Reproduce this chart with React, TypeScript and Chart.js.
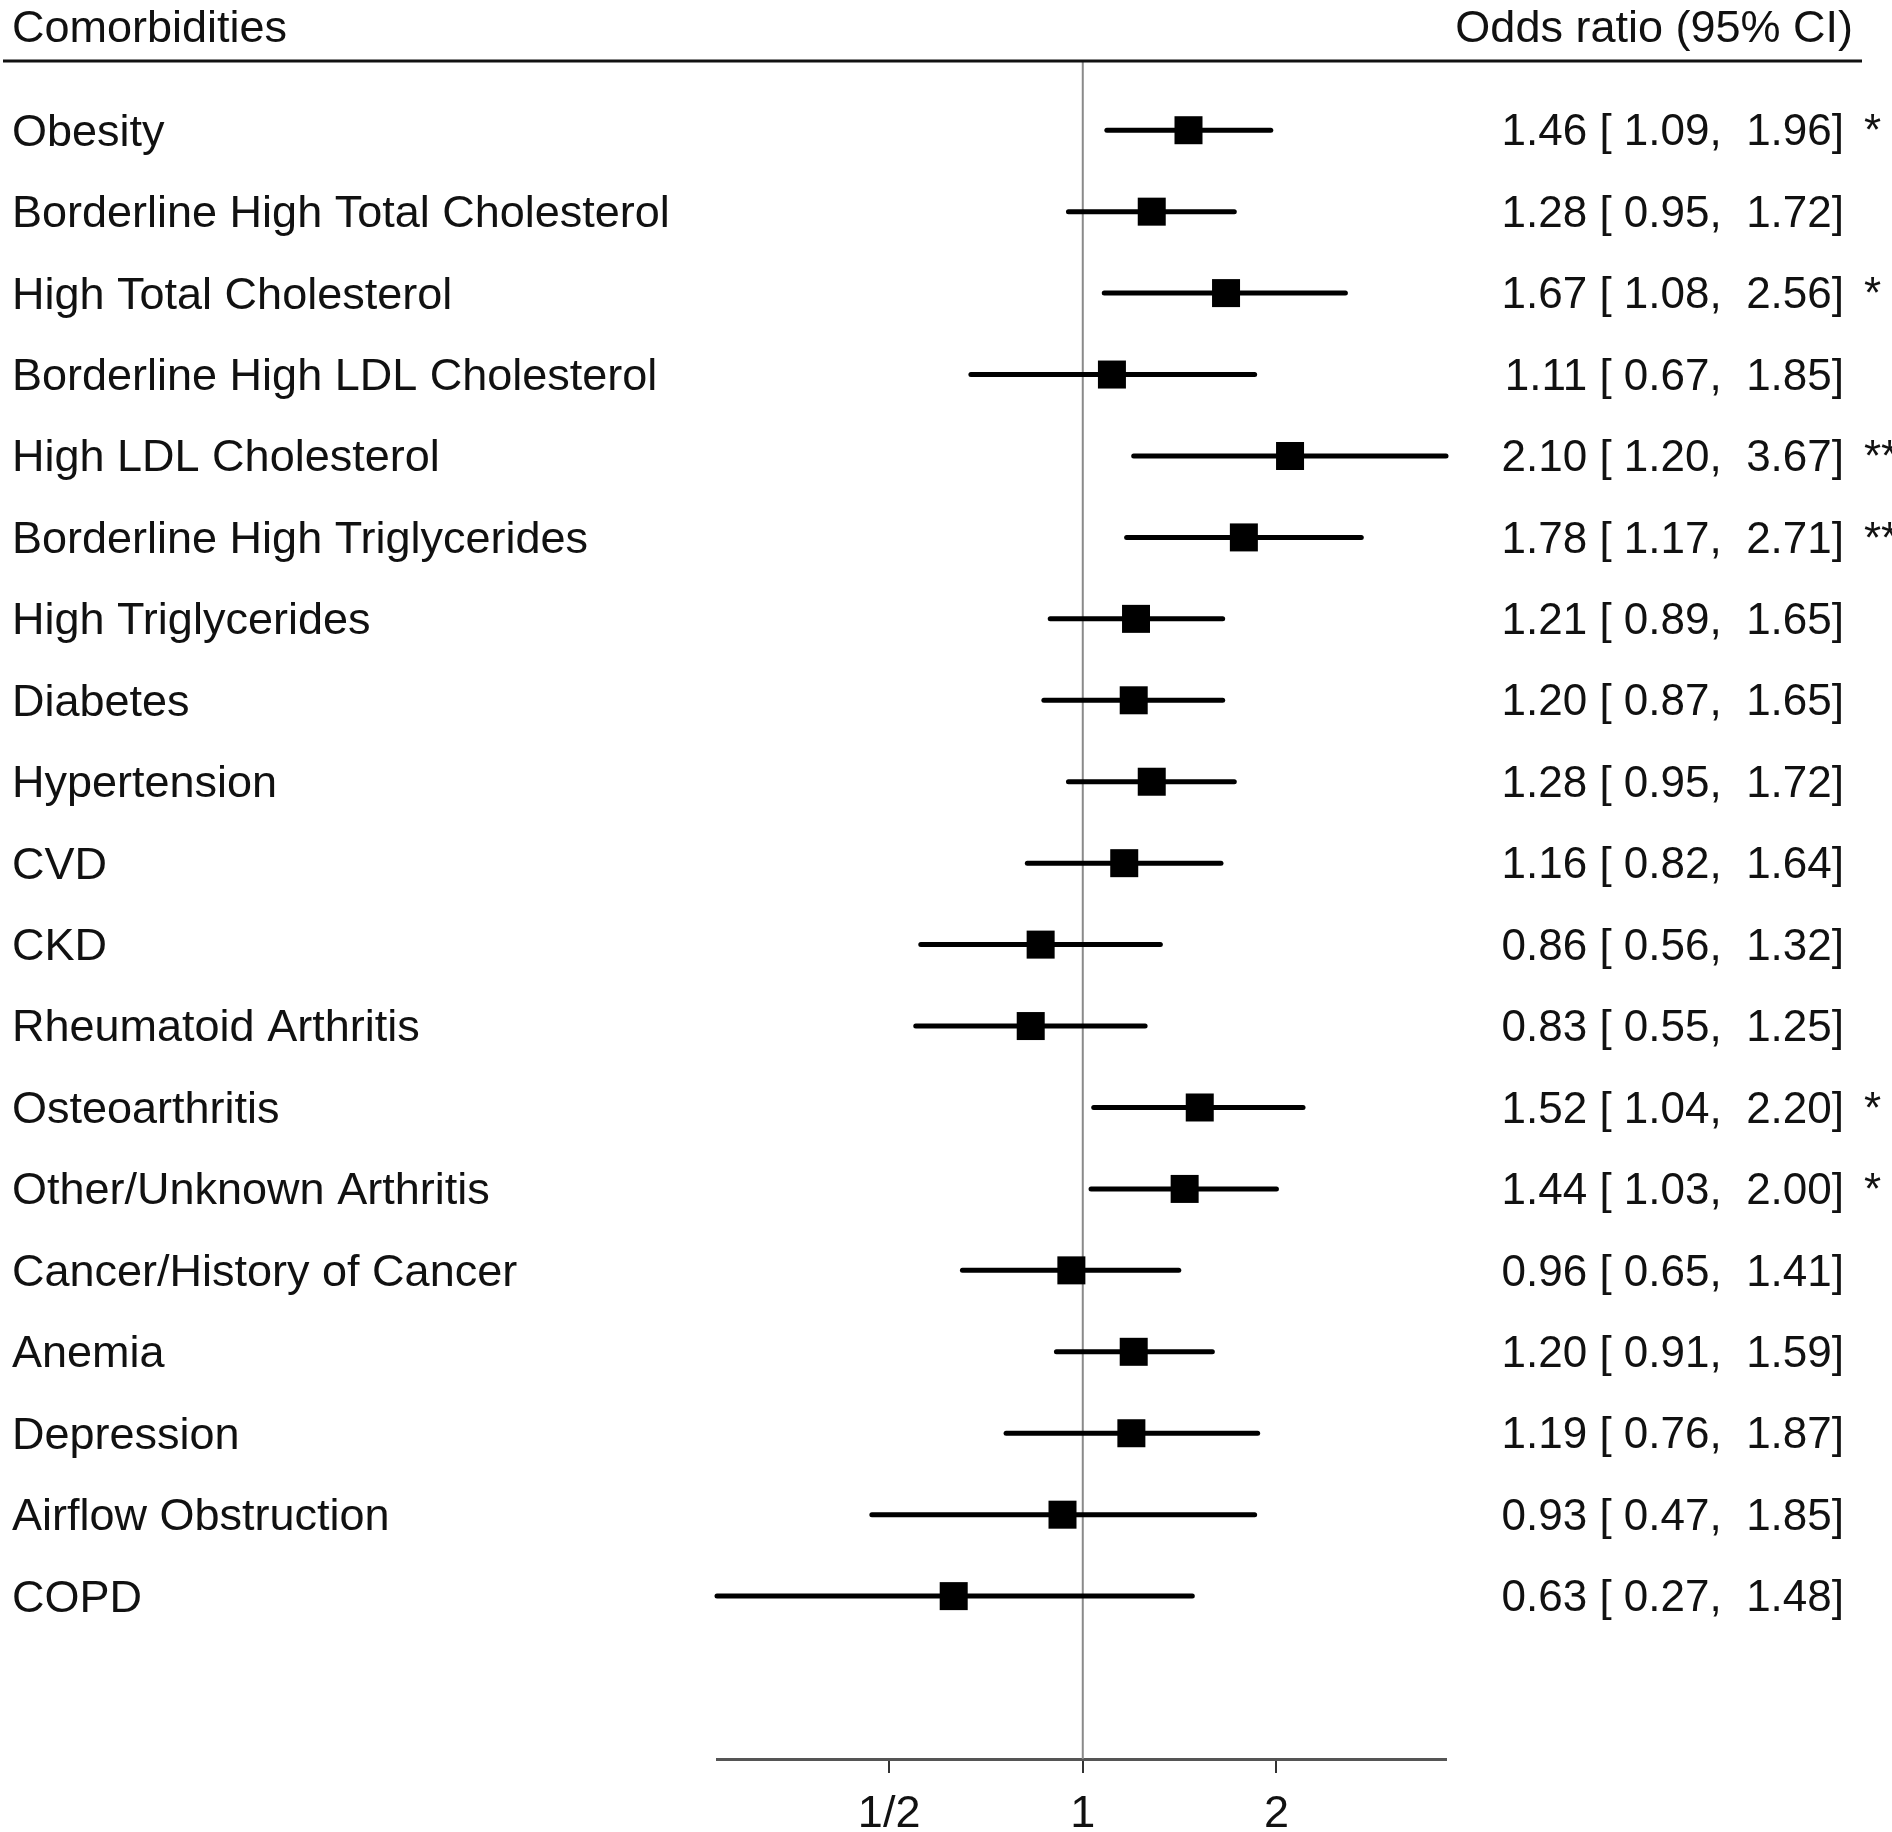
import React, { useEffect, useRef } from "react";
import { Chart, registerables } from "chart.js";

Chart.register(...registerables);

const labels = [
  "Obesity",
  "Borderline High Total Cholesterol",
  "High Total Cholesterol",
  "Borderline High LDL Cholesterol",
  "High LDL Cholesterol",
  "Borderline High Triglycerides",
  "High Triglycerides",
  "Diabetes",
  "Hypertension",
  "CVD",
  "CKD",
  "Rheumatoid Arthritis",
  "Osteoarthritis",
  "Other/Unknown Arthritis",
  "Cancer/History of Cancer",
  "Anemia",
  "Depression",
  "Airflow Obstruction",
  "COPD",
];
const estimates = [1.46, 1.28, 1.67, 1.11, 2.1, 1.78, 1.21, 1.2, 1.28, 1.16, 0.86, 0.83, 1.52, 1.44, 0.96, 1.2, 1.19, 0.93, 0.63];
const lower = [1.09, 0.95, 1.08, 0.67, 1.2, 1.17, 0.89, 0.87, 0.95, 0.82, 0.56, 0.55, 1.04, 1.03, 0.65, 0.91, 0.76, 0.47, 0.27];
const upper = [1.96, 1.72, 2.56, 1.85, 3.67, 2.71, 1.65, 1.65, 1.72, 1.64, 1.32, 1.25, 2.2, 2.0, 1.41, 1.59, 1.87, 1.85, 1.48];
const significance = ["*", "", "*", "", "**", "**", "", "", "", "", "", "", "*", "*", "", "", "", "", ""];
const tickValues = [0.5, 1, 2];
const tickLabels = ["1/2", "1", "2"];
const headerLeft = "Comorbidities";
const headerRight = "Odds ratio (95% CI)";

const FONT = '"Liberation Sans", Arial, Helvetica, sans-serif';
const FS = 45;
const FS_ANN = 44;

export default function App() {
  const ref = useRef<HTMLCanvasElement | null>(null);

  useEffect(() => {
    const n = labels.length;
    const rowY = (i: number) => n - i; // Obesity top row
    const yTop = n + 0.85;

    const ciSets = labels.map((_, i) => ({
      type: "line" as const,
      data: [
        { x: lower[i], y: rowY(i) },
        { x: upper[i], y: rowY(i) },
      ],
      borderColor: "#000",
      borderWidth: 5,
      borderCapStyle: "round" as const,
      pointRadius: 0,
      clip: false as any,
      order: 2,
    }));

    const refLine = {
      type: "line" as const,
      data: [
        { x: 1, y: -1 },
        { x: 1, y: yTop },
      ],
      borderColor: "#8a8a8a",
      borderWidth: 2,
      pointRadius: 0,
      clip: false as any,
      order: 3,
    };

    const points = {
      type: "scatter" as const,
      data: estimates.map((v, i) => ({ x: v, y: rowY(i) })),
      backgroundColor: "#000",
      borderWidth: 0,
      pointStyle: "rect" as const,
      pointRadius: 19.8,
      pointHoverRadius: 19.8,
      clip: false as any,
      order: 1,
    };

    const textPlugin = {
      id: "forestText",
      afterDraw(chart: any) {
        const ctx = chart.ctx;
        const ys = chart.scales.y;
        const area = chart.chartArea;
        ctx.save();
        ctx.fillStyle = "#111";
        ctx.textBaseline = "middle";
        // header
        ctx.font = `${FS}px ${FONT}`;
        ctx.textAlign = "left";
        ctx.fillText(headerLeft, 12, 30);
        ctx.textAlign = "right";
        ctx.fillText(headerRight, 1853, 30);
        ctx.strokeStyle = "#111";
        ctx.lineWidth = 3;
        ctx.beginPath();
        ctx.moveTo(3, area.top);
        ctx.lineTo(1862, area.top);
        ctx.stroke();
        // rows
        labels.forEach((lab, i) => {
          const y = ys.getPixelForValue(rowY(i)) + 3;
          ctx.font = `${FS}px ${FONT}`;
          ctx.textAlign = "left";
          ctx.fillText(lab, 12, y);
          ctx.font = `${FS_ANN}px ${FONT}`;
          ctx.textAlign = "right";
          const txt = `${estimates[i].toFixed(2)} [ ${lower[i].toFixed(2)},  ${upper[i].toFixed(2)}]`;
          ctx.fillText(txt, 1844, y);
          if (significance[i]) {
            ctx.textAlign = "left";
            ctx.fillText(significance[i], 1864, y);
          }
        });
        ctx.restore();
      },
    };

    const chart = new Chart(ref.current as HTMLCanvasElement, {
      type: "scatter",
      data: { datasets: [refLine, ...ciSets, points] as any },
      options: {
        animation: false,
        responsive: false,
        events: [],
        layout: { padding: { left: 717, right: 446, top: 61, bottom: 0 } },
        plugins: { legend: { display: false }, tooltip: { enabled: false } },
        scales: {
          x: {
            type: "logarithmic",
            min: Math.min(...lower),
            max: Math.max(...upper),
            position: "bottom",
            afterBuildTicks: (scale: any) => {
              scale.ticks = tickValues.map((v) => ({ value: v }));
            },
            afterFit: (scale: any) => {
              scale.height = 73;
            },
            grid: {
              display: true,
              drawOnChartArea: false,
              drawTicks: true,
              tickLength: 14,
              color: "#333",
              lineWidth: 2,
            },
            border: { display: true, color: "#555", width: 3 },
            ticks: {
              autoSkip: false,
              maxRotation: 0,
              padding: 15,
              color: "#111",
              font: { size: FS, family: FONT },
              callback: (v: any) => {
                const k = tickValues.indexOf(Number(v));
                return k >= 0 ? tickLabels[k] : "";
              },
            },
          },
          y: {
            type: "linear",
            display: false,
            min: -1,
            max: yTop,
          },
        },
      },
      plugins: [textPlugin],
    });
    return () => chart.destroy();
  }, []);

  return (
    <div style={{ position: "absolute", left: 0, top: 0, width: 1892, height: 1832, background: "#fff" }}>
      <canvas ref={ref} width={1892} height={1832} style={{ width: 1892, height: 1832, display: "block" }} />
    </div>
  );
}
